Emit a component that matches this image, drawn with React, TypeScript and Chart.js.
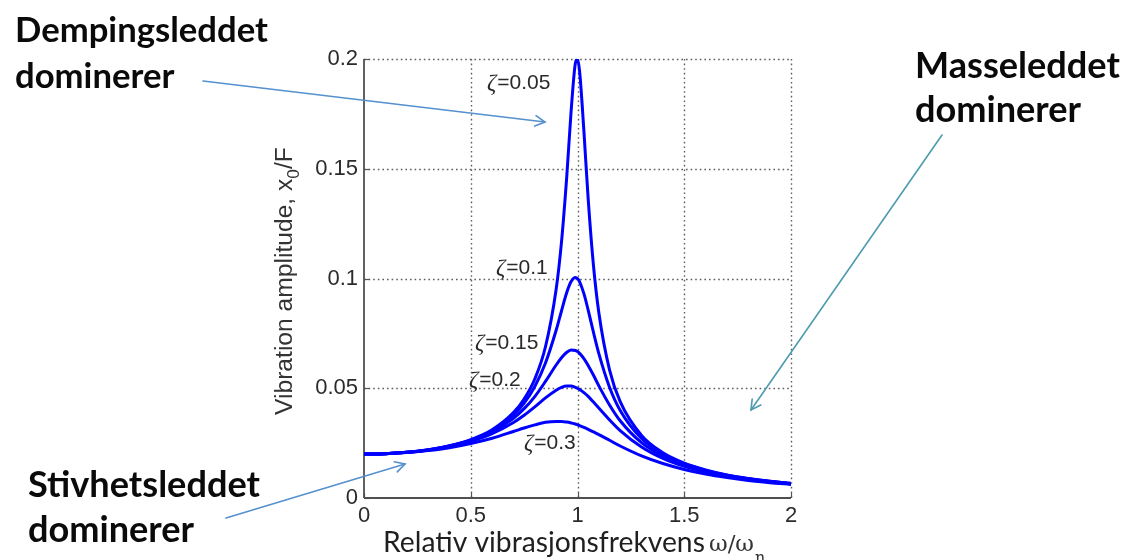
import { useEffect, useRef } from "react";
import { Chart, registerables } from "chart.js";

Chart.register(...registerables);

// Relative frequency ω/ωn (x values of the sampled curves)
const frequencyRatio = [0, 0.1, 0.2, 0.3, 0.4, 0.5, 0.6, 0.7, 0.75, 0.8, 0.85, 0.9, 0.925, 0.95, 0.97, 0.99, 1.0, 1.01, 1.03, 1.05, 1.075, 1.1, 1.15, 1.2, 1.3, 1.4, 1.5, 1.6, 1.7, 1.8, 1.9, 2.0];

// Vibration amplitude x0/F for each damping ratio
const zeta005 = [0.02, 0.0202, 0.0208, 0.022, 0.0238, 0.0266, 0.0311, 0.0389, 0.0451, 0.0542, 0.0689, 0.0951, 0.1166, 0.1469, 0.1761, 0.1981, 0.2, 0.1942, 0.1671, 0.1363, 0.1057, 0.0844, 0.0584, 0.0439, 0.0285, 0.0206, 0.0159, 0.0128, 0.0105, 0.0089, 0.0076, 0.0067];
const zeta01 = [0.02, 0.0202, 0.0208, 0.0219, 0.0237, 0.0264, 0.0307, 0.0378, 0.0432, 0.0508, 0.0615, 0.0764, 0.0852, 0.0937, 0.0986, 0.1005, 0.1, 0.0985, 0.0931, 0.0856, 0.0754, 0.0658, 0.0505, 0.0399, 0.0271, 0.02, 0.0156, 0.0126, 0.0104, 0.0088, 0.0076, 0.0066];
const zeta015 = [0.02, 0.0202, 0.0208, 0.0219, 0.0236, 0.0262, 0.0301, 0.0363, 0.0407, 0.0462, 0.0531, 0.0606, 0.0639, 0.0664, 0.0674, 0.0672, 0.0667, 0.0659, 0.0635, 0.0604, 0.0559, 0.0511, 0.0424, 0.0352, 0.0252, 0.0191, 0.0151, 0.0123, 0.0102, 0.0087, 0.0075, 0.0065];
const zeta02 = [0.02, 0.0202, 0.0208, 0.0218, 0.0234, 0.0258, 0.0293, 0.0344, 0.0377, 0.0415, 0.0456, 0.0491, 0.0504, 0.051, 0.051, 0.0504, 0.05, 0.0494, 0.048, 0.0463, 0.0437, 0.041, 0.0356, 0.0307, 0.0232, 0.018, 0.0144, 0.0119, 0.01, 0.0085, 0.0074, 0.0064];
const zeta03 = [0.02, 0.0202, 0.0207, 0.0216, 0.0229, 0.0248, 0.0272, 0.0303, 0.0319, 0.0333, 0.0345, 0.0349, 0.0349, 0.0346, 0.0342, 0.0337, 0.0333, 0.033, 0.0322, 0.0313, 0.0301, 0.0289, 0.0263, 0.0237, 0.0192, 0.0157, 0.013, 0.0109, 0.0093, 0.008, 0.007, 0.0062];

const seriesValues = [zeta005, zeta01, zeta015, zeta02, zeta03];
const seriesNames = ["ζ=0.05", "ζ=0.1", "ζ=0.15", "ζ=0.2", "ζ=0.3"];
const zetaValueTexts = ["=0.05", "=0.1", "=0.15", "=0.2", "=0.3"];

const xTicks = [0, 0.5, 1, 1.5, 2];
const xTickLabels = ["0", "0.5", "1", "1.5", "2"];
const yTicks = [0, 0.05, 0.1, 0.15, 0.2];
const yTickLabels = ["0", "0.05", "0.1", "0.15", "0.2"];

const yTitleMain = "Vibration amplitude, x";
const yTitleSub = "0";
const yTitleEnd = "/F";
const xTitleMain = "Relativ vibrasjonsfrekvens";
const xTitleSym = "ω/ω";
const xTitleSub = "n";

const noteDamping = ["Dempingsleddet", "dominerer"];
const noteMass = ["Masseleddet", "dominerer"];
const noteStiff = ["Stivhetsleddet", "dominerer"];

// ---- layout (pixels) ----
const SANS = "'Liberation Sans', Arial, sans-serif";
const NOTE_FONT = "Lato, 'Open Sans', sans-serif";
const zetaLabelPos = [
  [487, 83],
  [496, 268],
  [475, 343],
  [469, 380],
  [524, 443],
];

function fitSize(ctx: CanvasRenderingContext2D, text: string, target: number, style: string, family: string) {
  ctx.font = `${style} 100px ${family}`;
  const w = ctx.measureText(text).width;
  return (100 * target) / w;
}

function arrow(ctx: CanvasRenderingContext2D, x1: number, y1: number, x2: number, y2: number, color: string) {
  ctx.save();
  ctx.strokeStyle = color;
  ctx.lineWidth = 1.6;
  ctx.lineCap = "round";
  ctx.beginPath();
  ctx.moveTo(x1, y1);
  ctx.lineTo(x2, y2);
  ctx.stroke();
  const ang = Math.atan2(y2 - y1, x2 - x1);
  const len = 11;
  const spread = 0.5;
  ctx.beginPath();
  ctx.moveTo(x2 - len * Math.cos(ang - spread), y2 - len * Math.sin(ang - spread));
  ctx.lineTo(x2, y2);
  ctx.lineTo(x2 - len * Math.cos(ang + spread), y2 - len * Math.sin(ang + spread));
  ctx.stroke();
  ctx.restore();
}

const overlayPlugin = {
  id: "overlay",
  beforeDatasetsDraw(chart: any) {
    const { ctx, chartArea: a, scales } = chart;
    const x = scales.x;
    const y = scales.y;
    const line = (x1: number, y1: number, x2: number, y2: number) => {
      ctx.beginPath();
      ctx.moveTo(x1, y1);
      ctx.lineTo(x2, y2);
      ctx.stroke();
    };
    ctx.save();
    ctx.strokeStyle = "#5e5e5e";
    ctx.lineWidth = 1.4;
    ctx.setLineDash([1.6, 3]);
    for (const v of xTicks) {
      if (v === 0) continue;
      const px = Math.round(x.getPixelForValue(v)) + 0.5;
      line(px, a.top, px, a.bottom);
    }
    for (const v of yTicks) {
      if (v === 0) continue;
      const py = Math.round(y.getPixelForValue(v)) + 0.5;
      line(a.left, py, a.right, py);
    }
    ctx.setLineDash([]);
    ctx.strokeStyle = "#555";
    ctx.lineWidth = 1.2;
    for (const v of xTicks) {
      const px = Math.round(x.getPixelForValue(v)) + 0.5;
      line(px, a.bottom, px, a.bottom - 5);
    }
    for (const v of yTicks) {
      const py = Math.round(y.getPixelForValue(v)) + 0.5;
      line(a.left, py, a.left + 5, py);
    }
    ctx.lineWidth = 1.8;
    ctx.strokeStyle = "#505050";
    line(a.left, a.top, a.left, a.bottom);
    line(a.left, a.bottom, a.right, a.bottom);
    ctx.restore();
  },
  afterDraw(chart: any) {
    const { ctx } = chart;
    ctx.save();

    // zeta labels
    ctx.textBaseline = "middle";
    ctx.textAlign = "left";
    ctx.fillStyle = "#2a2a2a";
    seriesNames.forEach((_, i) => {
      const [lx, ly] = zetaLabelPos[i];
      ctx.font = `italic 23px 'Liberation Serif', serif`;
      ctx.fillText("ζ", lx, ly + 1);
      const zw = ctx.measureText("ζ").width;
      ctx.font = `21px ${SANS}`;
      ctx.fillText(zetaValueTexts[i], lx + zw + 1, ly);
    });

    // y axis title (rotated)
    {
      ctx.save();
      const cx = 283;
      const cy = 281;
      const target = 268;
      ctx.font = `100px ${SANS}`;
      const w1 = ctx.measureText(yTitleMain).width;
      ctx.font = `70px ${SANS}`;
      const w2 = ctx.measureText(yTitleSub).width;
      ctx.font = `100px ${SANS}`;
      const w3 = ctx.measureText(yTitleEnd).width;
      const size = (100 * target) / (w1 + w2 + w3);
      ctx.translate(cx, cy);
      ctx.rotate(-Math.PI / 2);
      ctx.fillStyle = "#333";
      ctx.textBaseline = "alphabetic";
      ctx.textAlign = "left";
      const base = size * 0.36;
      let px = -target / 2;
      ctx.font = `${size}px ${SANS}`;
      ctx.fillText(yTitleMain, px, base);
      px += ctx.measureText(yTitleMain).width;
      ctx.font = `${size * 0.7}px ${SANS}`;
      ctx.fillText(yTitleSub, px, base + size * 0.28);
      px += ctx.measureText(yTitleSub).width;
      ctx.font = `${size}px ${SANS}`;
      ctx.fillText(yTitleEnd, px, base);
      ctx.restore();
    }

    // x axis title
    {
      ctx.textBaseline = "alphabetic";
      ctx.textAlign = "left";
      ctx.fillStyle = "#1f1f1f";
      const s = fitSize(ctx, xTitleMain, 322, "", NOTE_FONT);
      ctx.font = `${s}px ${NOTE_FONT}`;
      ctx.fillText(xTitleMain, 383, 552);
      ctx.fillStyle = "#333";
      const ss = fitSize(ctx, xTitleSym, 45, "", "'DejaVu Serif', serif");
      ctx.font = `${ss}px 'DejaVu Serif', serif`;
      ctx.fillText(xTitleSym, 709, 551);
      const sw = ctx.measureText(xTitleSym).width;
      ctx.font = `16px 'DejaVu Serif', serif`;
      ctx.fillText(xTitleSub, 709 + sw + 1, 563);
    }

    // notes
    const note = (lines: string[], x: number, width: number, b1: number, b2: number) => {
      const s = fitSize(ctx, lines[0], width, "bold", NOTE_FONT);
      ctx.font = `bold ${s}px ${NOTE_FONT}`;
      ctx.fillStyle = "#0a0a0a";
      ctx.textAlign = "left";
      ctx.textBaseline = "alphabetic";
      ctx.fillText(lines[0], x, b1);
      ctx.fillText(lines[1], x, b2);
    };
    note(noteDamping, 15, 253, 42, 88);
    note(noteMass, 915, 205, 78, 122);
    note(noteStiff, 28, 232, 497, 542);

    // arrows
    arrow(ctx, 203, 81, 545, 122, "#5590cf");
    arrow(ctx, 942, 135, 751, 410, "#4d9bb0");
    arrow(ctx, 226, 518, 405, 464, "#5590cf");

    ctx.restore();
  },
};

export default function App() {
  const canvasRef = useRef<HTMLCanvasElement | null>(null);

  useEffect(() => {
    const canvas = canvasRef.current;
    if (!canvas) return;
    const chart = new Chart(canvas, {
      type: "line",
      data: {
        datasets: seriesValues.map((vals, i) => ({
          label: seriesNames[i],
          data: frequencyRatio.map((xv, j) => ({ x: xv, y: vals[j] })),
          borderColor: "#0000ff",
          backgroundColor: "#0000ff",
          borderWidth: 3,
          pointRadius: 0,
          fill: false,
          cubicInterpolationMode: "monotone" as const,
        })),
      },
      options: {
        responsive: false,
        maintainAspectRatio: false,
        animation: false,
        devicePixelRatio: 1,
        layout: { padding: { top: 59, right: 334, bottom: 0, left: 0 } },
        plugins: {
          legend: { display: false },
          tooltip: { enabled: false },
        },
        scales: {
          x: {
            type: "linear",
            min: 0,
            max: 2,
            afterBuildTicks: (s: any) => {
              s.ticks = xTicks.map((v) => ({ value: v }));
            },
            afterFit: (s: any) => {
              s.height = 62;
            },
            ticks: {
              padding: 5,
              color: "#2b2b2b",
              font: { family: SANS, size: 22 },
              maxRotation: 0,
              autoSkip: false,
              callback: (v: any) => {
                const i = xTicks.indexOf(Number(v));
                return i >= 0 ? xTickLabels[i] : "";
              },
            },
            grid: { display: false, drawTicks: false },
            border: { display: false },
          },
          y: {
            type: "linear",
            min: 0,
            max: 0.2,
            afterBuildTicks: (s: any) => {
              s.ticks = yTicks.map((v) => ({ value: v }));
            },
            afterFit: (s: any) => {
              s.width = 364;
            },
            ticks: {
              padding: 6,
              color: "#2b2b2b",
              font: { family: SANS, size: 22 },
              autoSkip: false,
              callback: (v: any) => {
                const i = yTicks.indexOf(Number(v));
                return i >= 0 ? yTickLabels[i] : "";
              },
            },
            grid: { display: false, drawTicks: false },
            border: { display: false },
          },
        },
      },
      plugins: [overlayPlugin],
    });
    return () => chart.destroy();
  }, []);

  return (
    <div style={{ position: "fixed", left: 0, top: 0, width: 1125, height: 560, background: "#fff" }}>
      <canvas ref={canvasRef} width={1125} height={560} style={{ display: "block" }} />
    </div>
  );
}
